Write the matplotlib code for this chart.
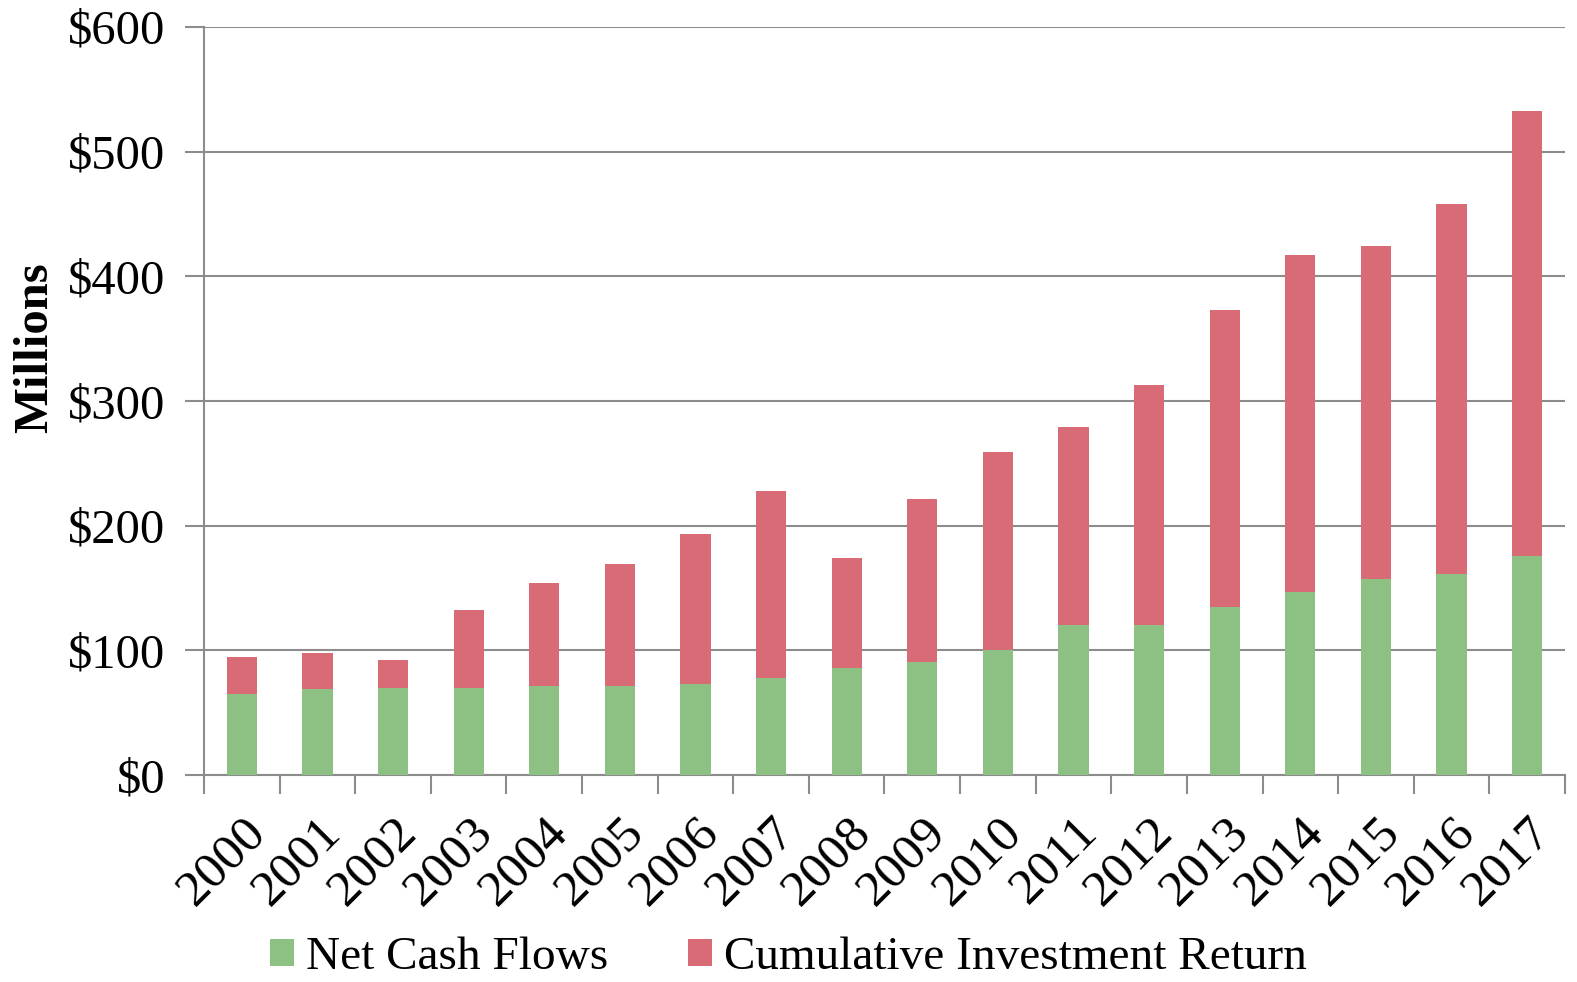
import matplotlib
matplotlib.use("Agg")
import matplotlib.pyplot as plt
import matplotlib.transforms as mtransforms
import numpy as np
from matplotlib.ticker import FuncFormatter, FixedLocator

years = [str(y) for y in range(2000, 2018)]
net_cash_flows = [65, 69, 70, 70, 71, 71, 73, 78, 86, 91, 100, 120, 120, 135, 147, 157, 161, 176]
totals = [95, 98, 92, 132, 154, 169, 193, 228, 174, 221, 259, 279, 313, 373, 417, 424, 458, 533]
investment_return = [t - n for t, n in zip(totals, net_cash_flows)]

GREEN = "#8DC183"
RED = "#D96B76"
GRID = "#8C8C8C"

plt.rcParams["font.family"] = ["Liberation Serif", "DejaVu Serif"]

fig = plt.figure(figsize=(15.77, 9.82), dpi=100)
ax = fig.add_axes([204 / 1577, 1 - 775 / 982, (1565 - 204) / 1577, (775 - 27) / 982])

x = np.arange(len(years))
ax.bar(x, net_cash_flows, width=0.4, color=GREEN, label="Net Cash Flows", zorder=3)
ax.bar(x, investment_return, width=0.4, bottom=net_cash_flows, color=RED,
       label="Cumulative Investment Return", zorder=3)

ax.set_xlim(-0.5, len(years) - 0.5)
ax.set_ylim(0, 600)
ax.set_yticks(range(0, 601, 100))
ax.yaxis.set_major_formatter(FuncFormatter(lambda v, _: f"${int(v)}"))
ax.grid(axis="y", color=GRID, linewidth=1.5, zorder=0)

# category labels centred on bars, tick marks between categories
ax.set_xticks(x)
ax.set_xticklabels(years, rotation=45, ha="right", rotation_mode="anchor")
shift = mtransforms.ScaledTranslation(-14 / 100, 0, fig.dpi_scale_trans)
for lbl in ax.get_xticklabels():
    lbl.set_transform(lbl.get_transform() + shift)
ax.xaxis.set_minor_locator(FixedLocator(np.arange(-0.5, len(years), 1.0)))
ax.tick_params(axis="x", which="major", length=0, labelsize=37, pad=24)
ax.tick_params(axis="x", which="minor", length=14, width=1.5, color=GRID)
ax.tick_params(axis="y", length=14, width=1.5, color=GRID, labelsize=35, pad=14)

for s in ("top", "right"):
    ax.spines[s].set_visible(False)
for s in ("left", "bottom"):
    ax.spines[s].set_color(GRID)
    ax.spines[s].set_linewidth(1.5)

ax.set_ylabel("Millions", fontsize=35, fontweight="bold")
ax.yaxis.set_label_coords(-0.108, 0.572)

fig.legend(loc="center", bbox_to_anchor=(0.5, 1 - 958 / 982), ncol=2, frameon=False,
           fontsize=34, handlelength=0.5, handleheight=0.5, handletextpad=0.25,
           columnspacing=1.7)

fig.savefig("out.png", dpi=100, facecolor="white")
